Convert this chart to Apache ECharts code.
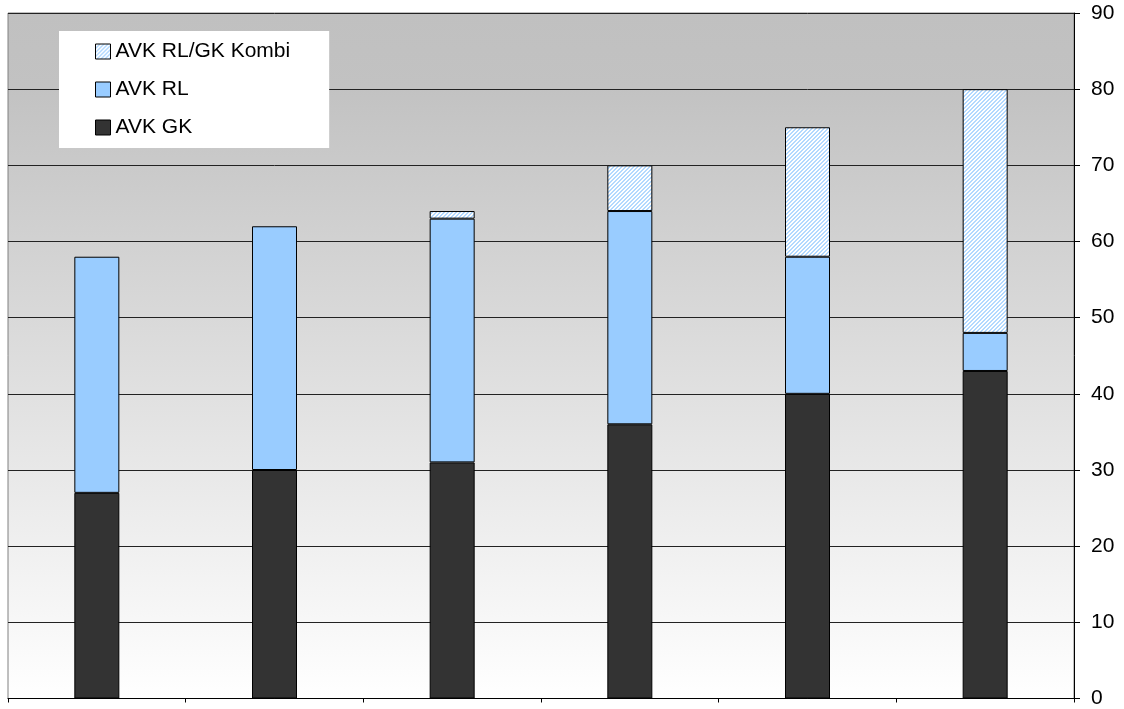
<!DOCTYPE html>
<html>
<head>
<meta charset="utf-8">
<script src="https://cdn.jsdelivr.net/npm/echarts@6/dist/echarts.min.js"></script>
<style>
  html, body { margin: 0; padding: 0; background: #ffffff; }
  #chart { width: 1124px; height: 709px; }
</style>
</head>
<body>
<div id="chart"></div>
<script>
// Six unlabelled periods, stacked from the bottom up
const categories = ['1', '2', '3', '4', '5', '6'];
const avkGK = [27, 30, 31, 36, 40, 43];
const avkRL = [31, 32, 32, 28, 18, 5];
const avkKombi = [0, 0, 1, 6, 17, 32];
const yTicks = [0, 10, 20, 30, 40, 50, 60, 70, 80, 90];

// Light-blue diagonal hatch for the combined series
function hatchPattern() {
  const c = document.createElement('canvas');
  c.width = 4; c.height = 4;
  const g = c.getContext('2d');
  g.fillStyle = '#ffffff';
  g.fillRect(0, 0, 4, 4);
  g.fillStyle = '#b3d9ff';
  for (let i = 0; i < 4; i++) {
    g.fillRect(i, 3 - i, 1, 1);
    g.fillRect((i + 1) % 4, 3 - i, 1, 1);
  }
  return c;
}
const hatch = { image: hatchPattern(), repeat: 'repeat' };

const font = 'Liberation Sans, Arial, sans-serif';
const border = { borderColor: '#000000', borderWidth: 1 };

const chart = echarts.init(document.getElementById('chart'), null, { renderer: 'canvas' });
chart.setOption({
  animation: false,
  textStyle: { fontFamily: font },
  grid: {
    left: 8, right: 50, top: 13, bottom: 10,
    show: true,
    borderColor: '#808080',
    borderWidth: 1,
    backgroundColor: {
      type: 'linear', x: 0, y: 0, x2: 0, y2: 1,
      colorStops: [
        { offset: 0, color: '#c0c0c0' },
        { offset: 0.11, color: '#c2c2c2' },
        { offset: 1, color: '#ffffff' }
      ]
    }
  },
  legend: {
    orient: 'vertical',
    left: 59, top: 31,
    backgroundColor: '#ffffff',
    padding: [10, 39, 10, 36],
    itemWidth: 15, itemHeight: 15,
    itemGap: 17,
    textStyle: { fontFamily: font, fontSize: 21, color: '#000000' },
    data: [
      { name: 'AVK RL/GK Kombi', icon: 'rect', itemStyle: { color: hatch, borderColor: '#000', borderWidth: 1 } },
      { name: 'AVK RL', icon: 'rect', itemStyle: { color: '#99ccff', borderColor: '#000', borderWidth: 1 } },
      { name: 'AVK GK', icon: 'rect', itemStyle: { color: '#333333', borderColor: '#000', borderWidth: 1 } }
    ]
  },
  xAxis: {
    type: 'category',
    data: categories,
    boundaryGap: true,
    axisLine: { show: true, lineStyle: { color: '#000000', width: 1 } },
    axisTick: { show: true, alignWithLabel: false, length: 4, lineStyle: { color: '#000000' } },
    axisLabel: { show: false },
    splitLine: { show: false }
  },
  yAxis: {
    type: 'value',
    position: 'right',
    min: yTicks[0],
    max: yTicks[yTicks.length - 1],
    interval: 10,
    axisLine: { show: true, lineStyle: { color: '#000000', width: 1 } },
    axisTick: { show: true, inside: false, length: 6, lineStyle: { color: '#000000' } },
    axisLabel: { margin: 17, fontSize: 21, color: '#000000', fontFamily: font },
    splitLine: { show: true, lineStyle: { color: '#222222', width: 1 } }
  },
  series: [
    {
      name: 'AVK GK', type: 'bar', stack: 'avk', barWidth: 45,
      itemStyle: Object.assign({ color: '#333333' }, border),
      data: avkGK
    },
    {
      name: 'AVK RL', type: 'bar', stack: 'avk', barWidth: 45,
      itemStyle: Object.assign({ color: '#99ccff' }, border),
      data: avkRL
    },
    {
      name: 'AVK RL/GK Kombi', type: 'bar', stack: 'avk', barWidth: 45,
      itemStyle: Object.assign({ color: hatch }, border),
      data: avkKombi.map(v => (v === 0 ? null : v))
    }
  ]
});
</script>
</body>
</html>
